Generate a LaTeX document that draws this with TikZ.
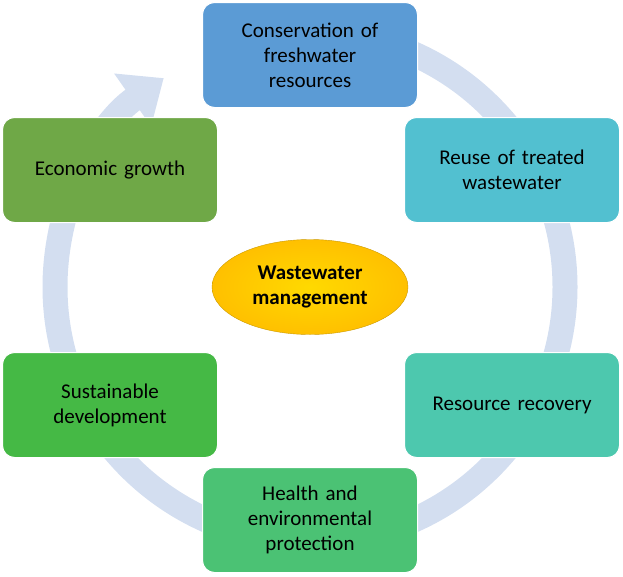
\documentclass[tikz,border=0pt]{standalone}
\usepackage{fontspec}
\setmainfont{Carlito}
\usetikzlibrary{arrows.meta, shapes.geometric}
\definecolor{ringc}{HTML}{D3DEF0}
\definecolor{consc}{HTML}{5B9BD5}
\definecolor{reusec}{HTML}{52C0D0}
\definecolor{recovc}{HTML}{4DC8AE}
\definecolor{healthc}{HTML}{4BC274}
\definecolor{sustc}{HTML}{45B945}
\definecolor{econc}{HTML}{6FA847}
\definecolor{goldc}{HTML}{FFC000}
\tikzset{
  stage/.style={draw=white, line width=1pt, rounded corners=12pt, minimum width=215pt,
    minimum height=105pt, align=center, text width=190pt, font=\fontsize{21}{25}\selectfont, text=black}
}
\begin{document}
\begin{tikzpicture}[x=1pt,y=-1pt]
\useasboundingbox (0,0) rectangle (623,576);
% ring
\draw[ringc, line width=25pt, -{Triangle[width=62pt,length=38pt]}]
  (310,287) ++(-90:255) arc[start angle=-90, end angle=235, radius=255];
% stages
\node[stage, fill=consc] (cons) at (310,55) {Conservation of\\freshwater\\resources};
\node[stage, fill=reusec] (reuse) at (512,170) {Reuse of treated\\wastewater};
\node[stage, fill=recovc] (recov) at (512,405) {Resource recovery};
\node[stage, fill=healthc] (health) at (310,520) {Health and\\environmental\\protection};
\node[stage, fill=sustc] (sust) at (110,405) {Sustainable\\development};
\node[stage, fill=econc] (econ) at (110,170) {Economic growth};
% centre
\node[ellipse, draw=goldc!80!black, inner color=goldc!60!yellow, outer color=goldc, minimum width=196pt, minimum height=95pt,
  align=center, font=\bfseries\fontsize{21}{25}\selectfont] (ww) at (310,287) {Wastewater\\management};
\end{tikzpicture}
\end{document}
